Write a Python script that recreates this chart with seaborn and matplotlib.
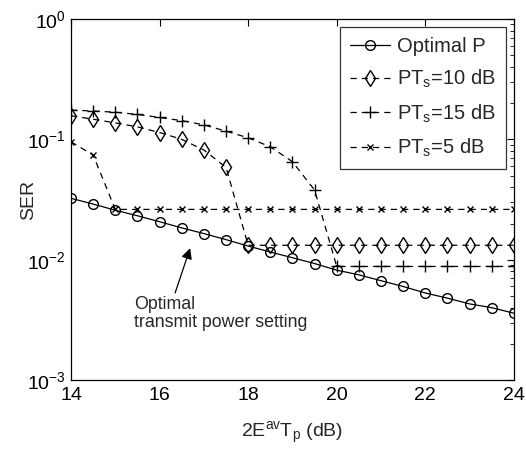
import numpy as np
import pandas as pd
import matplotlib
matplotlib.use("Agg")
import matplotlib.pyplot as plt
import seaborn as sns
from matplotlib.ticker import LogLocator, NullFormatter, FixedLocator

# SNR axis (dB)
snr = [14, 14.5, 15, 15.5, 16, 16.5, 17, 17.5, 18, 18.5, 19, 19.5,
       20, 20.5, 21, 21.5, 22, 22.5, 23, 23.5, 24]

# Symbol error rate for each power setting
ser_optimal = [0.0324, 0.0290, 0.0258, 0.0232, 0.0207, 0.0184, 0.0165, 0.0147,
               0.0130, 0.0116, 0.0104, 0.0093, 0.0082, 0.0075, 0.0067, 0.0060,
               0.0053, 0.0048, 0.0043, 0.0040, 0.0036]
ser_pt10 = [0.157, 0.147, 0.137, 0.127, 0.114, 0.100, 0.0815, 0.0585,
            0.0132, 0.0132, 0.0132, 0.0132, 0.0132, 0.0132, 0.0132, 0.0132,
            0.0132, 0.0132, 0.0132, 0.0132, 0.0132]
ser_pt15 = [0.175, 0.172, 0.168, 0.161, 0.152, 0.143, 0.132, 0.117,
            0.103, 0.0868, 0.0652, 0.0379, 0.0088, 0.0088, 0.0088, 0.0088,
            0.0088, 0.0088, 0.0088, 0.0088, 0.0088]
ser_pt5 = [0.0955, 0.074, 0.0262, 0.0262, 0.0262, 0.0262, 0.0262, 0.0262,
           0.0262, 0.0262, 0.0262, 0.0262, 0.0262, 0.0262, 0.0262, 0.0262,
           0.0262, 0.0262, 0.0262, 0.0262, 0.0262]

labels = ["Optimal P", r"PT$_\mathrm{s}$=10 dB", r"PT$_\mathrm{s}$=15 dB",
          r"PT$_\mathrm{s}$=5 dB"]
x_ticks = [14, 16, 18, 20, 22, 24]

sns.set_style("white")
plt.rcParams["font.family"] = ["Liberation Sans", "DejaVu Sans"]
plt.rcParams["mathtext.fontset"] = "custom"
plt.rcParams["mathtext.rm"] = "Liberation Sans"
plt.rcParams["mathtext.it"] = "Liberation Sans:italic"
plt.rcParams["mathtext.sf"] = "Liberation Sans"

fig = plt.figure(figsize=(5.26, 4.51), dpi=100)
ax = fig.add_axes([0.135, 0.157, 0.842, 0.801])

series = [ser_optimal, ser_pt10, ser_pt15, ser_pt5]
styles = [
    dict(marker="o", linestyle="-", ms=7),
    dict(marker="d", linestyle=(0, (5, 4)), ms=8),
    dict(marker="+", linestyle=(0, (5, 4)), ms=8),
    dict(marker="x", linestyle=(0, (5, 4)), ms=5),
]
for vals, lab, st in zip(series, labels, styles):
    df = pd.DataFrame({"snr": snr, "ser": vals})
    sns.lineplot(data=df, x="snr", y="ser", ax=ax, color="black", lw=0.9,
                 marker=st["marker"], linestyle=st["linestyle"],
                 markersize=st["ms"], markerfacecolor="none",
                 markeredgecolor="black", markeredgewidth=1.0, label=lab)

ax.set_yscale("log")
ax.set_xlim(14, 24)
ax.set_ylim(1e-3, 1e0)
ax.xaxis.set_major_locator(FixedLocator(x_ticks))
ax.yaxis.set_major_locator(LogLocator(base=10, numticks=10))
ax.yaxis.set_minor_locator(LogLocator(base=10, subs=np.arange(2, 10), numticks=10))
ax.yaxis.set_minor_formatter(NullFormatter())
ax.tick_params(axis="both", which="both", direction="in", top=True, right=True,
               labelsize=14, colors="black")
ax.tick_params(which="major", length=5, width=0.8)
ax.tick_params(which="minor", length=3, width=0.6)
ax.tick_params(axis="x", pad=5)
for sp in ax.spines.values():
    sp.set_color("black")
    sp.set_linewidth(0.9)

ax.set_xlabel(r"2E$^\mathrm{av}$T$_\mathrm{p}$ (dB)", fontsize=14, labelpad=11)
ax.set_ylabel("SER", fontsize=14)
ax.yaxis.set_label_coords(-0.076, 0.5)

leg = ax.legend(loc="upper right", fontsize=14.5, handlelength=2.0,
                frameon=True, fancybox=False, edgecolor="black",
                borderaxespad=0.4, labelspacing=0.6, handletextpad=0.35,
                borderpad=0.5)
leg.get_frame().set_linewidth(0.9)

# Annotation pointing to the optimal curve
ax.annotate("", xy=(16.69, 0.0125), xytext=(16.35, 0.0053),
            arrowprops=dict(arrowstyle="-|>", color="black", lw=0.9,
                            mutation_scale=16, shrinkA=0, shrinkB=0))
ax.text(15.42, 0.0050, "Optimal\ntransmit power setting", fontsize=12.8,
        ha="left", va="top", linespacing=1.1)

fig.savefig("out.png", dpi=100)
